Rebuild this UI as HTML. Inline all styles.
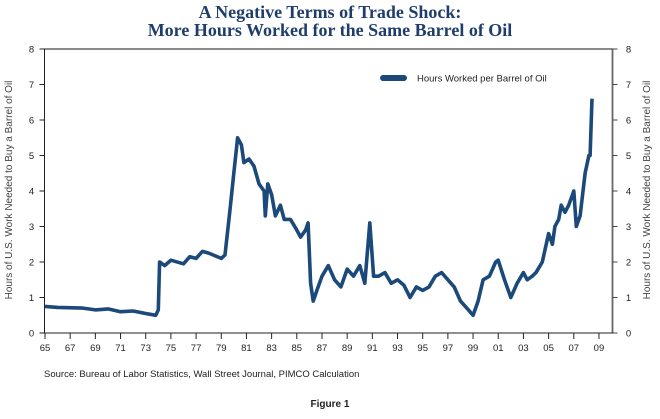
<!DOCTYPE html>
<html><head><meta charset="utf-8"><style>
body{margin:0;background:#fff;width:660px;height:414px;overflow:hidden}
svg text{font-family:"Liberation Sans",sans-serif}
</style></head><body>
<svg id="chart" width="660" height="414" viewBox="0 0 660 414">
<text x="330" y="18" text-anchor="middle" style="font-family:'Liberation Serif',serif;font-weight:bold;font-size:18px" fill="#1f3d6b">A Negative Terms of Trade Shock:</text>
<text x="330" y="36" text-anchor="middle" style="font-family:'Liberation Serif',serif;font-weight:bold;font-size:18px" fill="#1f3d6b">More Hours Worked for the Same Barrel of Oil</text>
<g id="axes"></g>
<path id="series" fill="none" stroke="#1b4a7a" stroke-width="3.6" stroke-linejoin="round"/>
<rect x="380" y="75" width="27" height="6" rx="3" fill="#1b4a7a"/>
<text x="417" y="81.5" font-size="9.5" fill="#222">Hours Worked per Barrel of Oil</text>
<text x="12" y="190" font-size="10" fill="#444" text-anchor="middle" transform="rotate(-90 12 190)">Hours of U.S. Work Needed to Buy a Barrel of Oil</text>
<text x="650" y="190" font-size="10" fill="#444" text-anchor="middle" transform="rotate(-90 650 190)">Hours of U.S. Work Needed to Buy a Barrel of Oil</text>
<text x="44" y="377" font-size="9.5" fill="#222">Source: Bureau of Labor Statistics, Wall Street Journal, PIMCO Calculation</text>
<text x="330" y="407" font-size="10" font-weight="bold" fill="#222" text-anchor="middle">Figure 1</text>
</svg>
<script>
const years=[1965,1966,1968,1969,1970,1971,1972,1973,1973.8,1974.0,1974.1,1974.5,1975,1976,1976.5,1977,1977.5,1978,1979,1979.3,1979.7,1980,1980.3,1980.6,1980.8,1981.2,1981.6,1982,1982.4,1982.5,1982.7,1983,1983.3,1983.7,1984,1984.5,1985,1985.3,1985.7,1985.9,1986.1,1986.3,1986.6,1987,1987.5,1988,1988.5,1989,1989.5,1990,1990.4,1990.8,1991.1,1991.5,1992,1992.5,1993,1993.5,1994,1994.5,1995,1995.5,1996,1996.5,1997,1997.5,1998,1998.5,1999,1999.4,1999.8,2000.3,2000.8,2001,2001.5,2002,2002.5,2003,2003.3,2003.7,2004,2004.5,2005,2005.3,2005.5,2005.8,2006,2006.3,2006.6,2007,2007.2,2007.5,2007.9,2008.2,2008.3,2008.45];
const hours=[0.75,0.72,0.7,0.65,0.68,0.6,0.62,0.55,0.5,0.65,2.0,1.9,2.05,1.95,2.15,2.1,2.3,2.25,2.1,2.2,3.5,4.5,5.5,5.3,4.8,4.9,4.7,4.2,4.0,3.3,4.2,3.9,3.3,3.6,3.2,3.2,2.9,2.7,2.9,3.1,1.4,0.9,1.2,1.6,1.9,1.5,1.3,1.8,1.6,1.9,1.4,3.1,1.6,1.6,1.7,1.4,1.5,1.35,1.0,1.3,1.2,1.3,1.6,1.7,1.5,1.3,0.9,0.7,0.5,0.9,1.5,1.6,2.0,2.05,1.5,1.0,1.4,1.7,1.5,1.6,1.7,2.0,2.8,2.5,3.0,3.2,3.6,3.4,3.6,4.0,3.0,3.3,4.5,5.0,5.0,6.6];
const yTicks=[0,1,2,3,4,5,6,7,8];
const xTickLabels=["65","67","69","71","73","75","77","79","81","83","85","87","89","91","93","95","97","99","01","03","05","07","09"];
const L=44.5,R=612.5,T=49,B=333;
const X=y=>45+(y-1965)*12.59;
const Y=v=>B-(v/8)*(B-T);
const ns="http://www.w3.org/2000/svg";
const g=document.getElementById('axes');
function mk(t,a){const e=document.createElementNS(ns,t);for(const k in a)e.setAttribute(k,a[k]);g.appendChild(e);return e;}
let e=mk('line',{x1:L,y1:T,x2:R,y2:T,stroke:'#444','stroke-width':1.2});


e=mk('line',{x1:L,y1:T,x2:L,y2:B,stroke:'#222','stroke-width':1});


e=mk('line',{x1:R,y1:T,x2:R,y2:B,stroke:'#666','stroke-width':1.8});


e=mk('line',{x1:L,y1:B,x2:R,y2:B,stroke:'#222','stroke-width':1});


yTicks.forEach(v=>{
 const y=Y(v);
 let t=mk('line',{x1:L-5,y1:y,x2:L,y2:y,stroke:'#222'});
 
 
 t=mk('line',{x1:R,y1:y,x2:R+5,y2:y,stroke:'#444'});
 
 
 let l=mk('text',{x:L-13,y:y+3.5,'font-size':9.5,fill:'#222','text-anchor':'middle'});l.textContent=v;
 
 
 l=mk('text',{x:R+16,y:y+3.5,'font-size':9.5,fill:'#222','text-anchor':'middle'});l.textContent=v;
 
 
});
xTickLabels.forEach((s,i)=>{
 const x=X(1965+2*i);
 let t=mk('line',{x1:x,y1:B,x2:x,y2:B+6,stroke:'#222'});
 
 
 let l=mk('text',{x:x,y:B+18,'font-size':9.5,fill:'#222','text-anchor':'middle'});l.textContent=s;
 
 
});
document.getElementById('series').setAttribute('d',years.map((y,i)=>(i?'L':'M')+X(y).toFixed(1)+','+Y(hours[i]).toFixed(1)).join(''));
</script>
</body></html>
